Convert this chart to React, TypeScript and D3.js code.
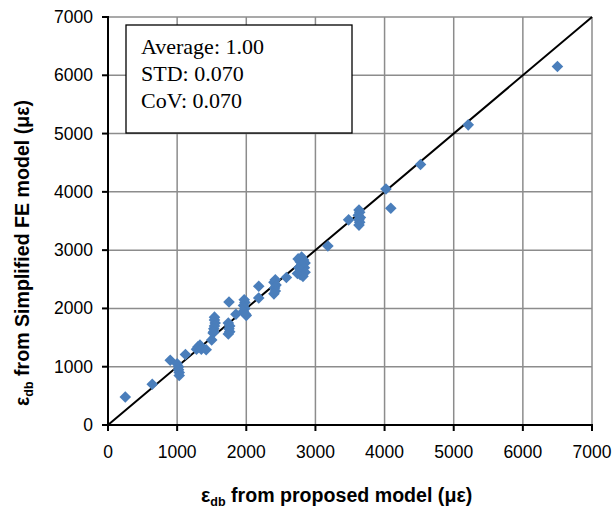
import React from 'react';
import { scaleLinear, range } from 'd3';

// values (proposed model vs simplified FE model, in microstrain)
const proposed: number[] = [
  250, 640, 900, 1000, 1020, 1020, 1030, 1030, 1120,
  1300, 1330, 1280, 1350, 1420, 1500,
  1540, 1540, 1550, 1540, 1530, 1530, 1520,
  1750, 1740, 1760, 1750, 1760, 1740, 1850,
  1970, 1980, 1960, 1980, 1960, 1990, 2000,
  2180, 2180, 2420, 2400, 2430, 2410, 2420, 2400, 2580,
  2750, 2800, 2830, 2780, 2850, 2800, 2760, 2840, 2790, 2850, 2780, 2820, 2740,
  3180, 3480, 3630, 3640, 3620, 3650, 3630, 3640, 3630,
  4020, 4090, 4520, 5210, 6500,
];
const simplifiedFE: number[] = [
  480, 700, 1110, 1050, 1000, 950, 900, 850, 1210,
  1340, 1370, 1300, 1300, 1290, 1460,
  1850, 1800, 1750, 1700, 1650, 1600, 1580,
  2110, 1750, 1700, 1650, 1600, 1560, 1900,
  2150, 2100, 2050, 2000, 1950, 1900, 1880,
  2380, 2180, 2490, 2450, 2400, 2350, 2300, 2250, 2530,
  2850, 2880, 2830, 2800, 2780, 2750, 2700, 2700, 2650, 2620, 2580, 2550, 2600,
  3070, 3520, 3690, 3650, 3600, 3560, 3520, 3480, 3430,
  4050, 3720, 4470, 5150, 6150,
];
const ticks: number[] = [0, 1000, 2000, 3000, 4000, 5000, 6000, 7000];
const statLines: string[] = ['Average: 1.00', 'STD: 0.070', 'CoV: 0.070'];

const W = 615;
const H = 511;
const m = { left: 108, right: 592, top: 17, bottom: 425 };
const r = 5.8; // half diagonal of the diamond marker

const App: React.FC = () => {
  const x = scaleLinear().domain([0, 7000]).range([m.left, m.right]);
  const y = scaleLinear().domain([0, 7000]).range([m.bottom, m.top]);
  const diamond = `M0,${-r}L${r},0L0,${r}L${-r},0Z`;
  const points = range(proposed.length).map(i => [proposed[i], simplifiedFE[i]]);

  return (
    <svg width={W} height={H} style={{ position: 'absolute', left: 0, top: 0, background: '#fff' }}
      fontFamily="Arial, 'Liberation Sans', sans-serif">
      {/* grid */}
      <g stroke="#8c8c8c" strokeWidth={1.5}>
        {ticks.slice(1).map(t => (
          <line key={'gx' + t} x1={x(t)} x2={x(t)} y1={m.top} y2={m.bottom} />
        ))}
        {ticks.slice(1).map(t => (
          <line key={'gy' + t} x1={m.left} x2={m.right} y1={y(t)} y2={y(t)} />
        ))}
      </g>

      {/* stats box */}
      <rect x={126} y={25} width={226} height={108} fill="#fff" stroke="#000" strokeWidth={1.3} />
      {statLines.map((s, i) => (
        <text key={s} x={141} y={54 + i * 27} fontFamily="'Liberation Serif', 'Times New Roman', serif"
          fontSize={22} fill="#000">{s}</text>
      ))}

      {/* 1:1 line */}
      <line x1={x(0)} y1={y(0)} x2={x(7000)} y2={y(7000)} stroke="#000" strokeWidth={2} />

      {/* points */}
      <g fill="#4a7ebb">
        {points.map((p, i) => (
          <path key={i} d={diamond} transform={`translate(${x(p[0])},${y(p[1])})`} />
        ))}
      </g>

      {/* axes */}
      <g stroke="#000" strokeWidth={2}>
        <line x1={m.left} x2={m.left} y1={m.top - 1} y2={m.bottom + 1} />
        <line x1={m.left - 1} x2={m.right + 1} y1={m.bottom} y2={m.bottom} />
        {ticks.map(t => (
          <line key={'tx' + t} x1={x(t)} x2={x(t)} y1={m.bottom} y2={m.bottom + 6} />
        ))}
        {ticks.map(t => (
          <line key={'ty' + t} x1={m.left - 6} x2={m.left} y1={y(t)} y2={y(t)} />
        ))}
      </g>
      <g fontSize={17.5} fill="#000">
        {ticks.map(t => (
          <text key={'lx' + t} x={x(t)} y={458} textAnchor="middle">{t}</text>
        ))}
        {ticks.map(t => (
          <text key={'ly' + t} x={93} y={y(t) + 6} textAnchor="end">{t}</text>
        ))}
      </g>

      {/* axis titles */}
      <text x={201} y={502} textAnchor="start" fontSize={19.6} fontWeight="bold" fill="#000">
        ε<tspan fontSize={12.5} dy={4}>db</tspan><tspan dy={-4}> from proposed model (με)</tspan>
      </text>
      <text transform="translate(29,406) rotate(-90)" textAnchor="start" fontSize={19.6} fontWeight="bold" fill="#000">
        ε<tspan fontSize={12.5} dy={4}>db</tspan><tspan dy={-4}> from Simplified FE model (με)</tspan>
      </text>
    </svg>
  );
};

export default App;
